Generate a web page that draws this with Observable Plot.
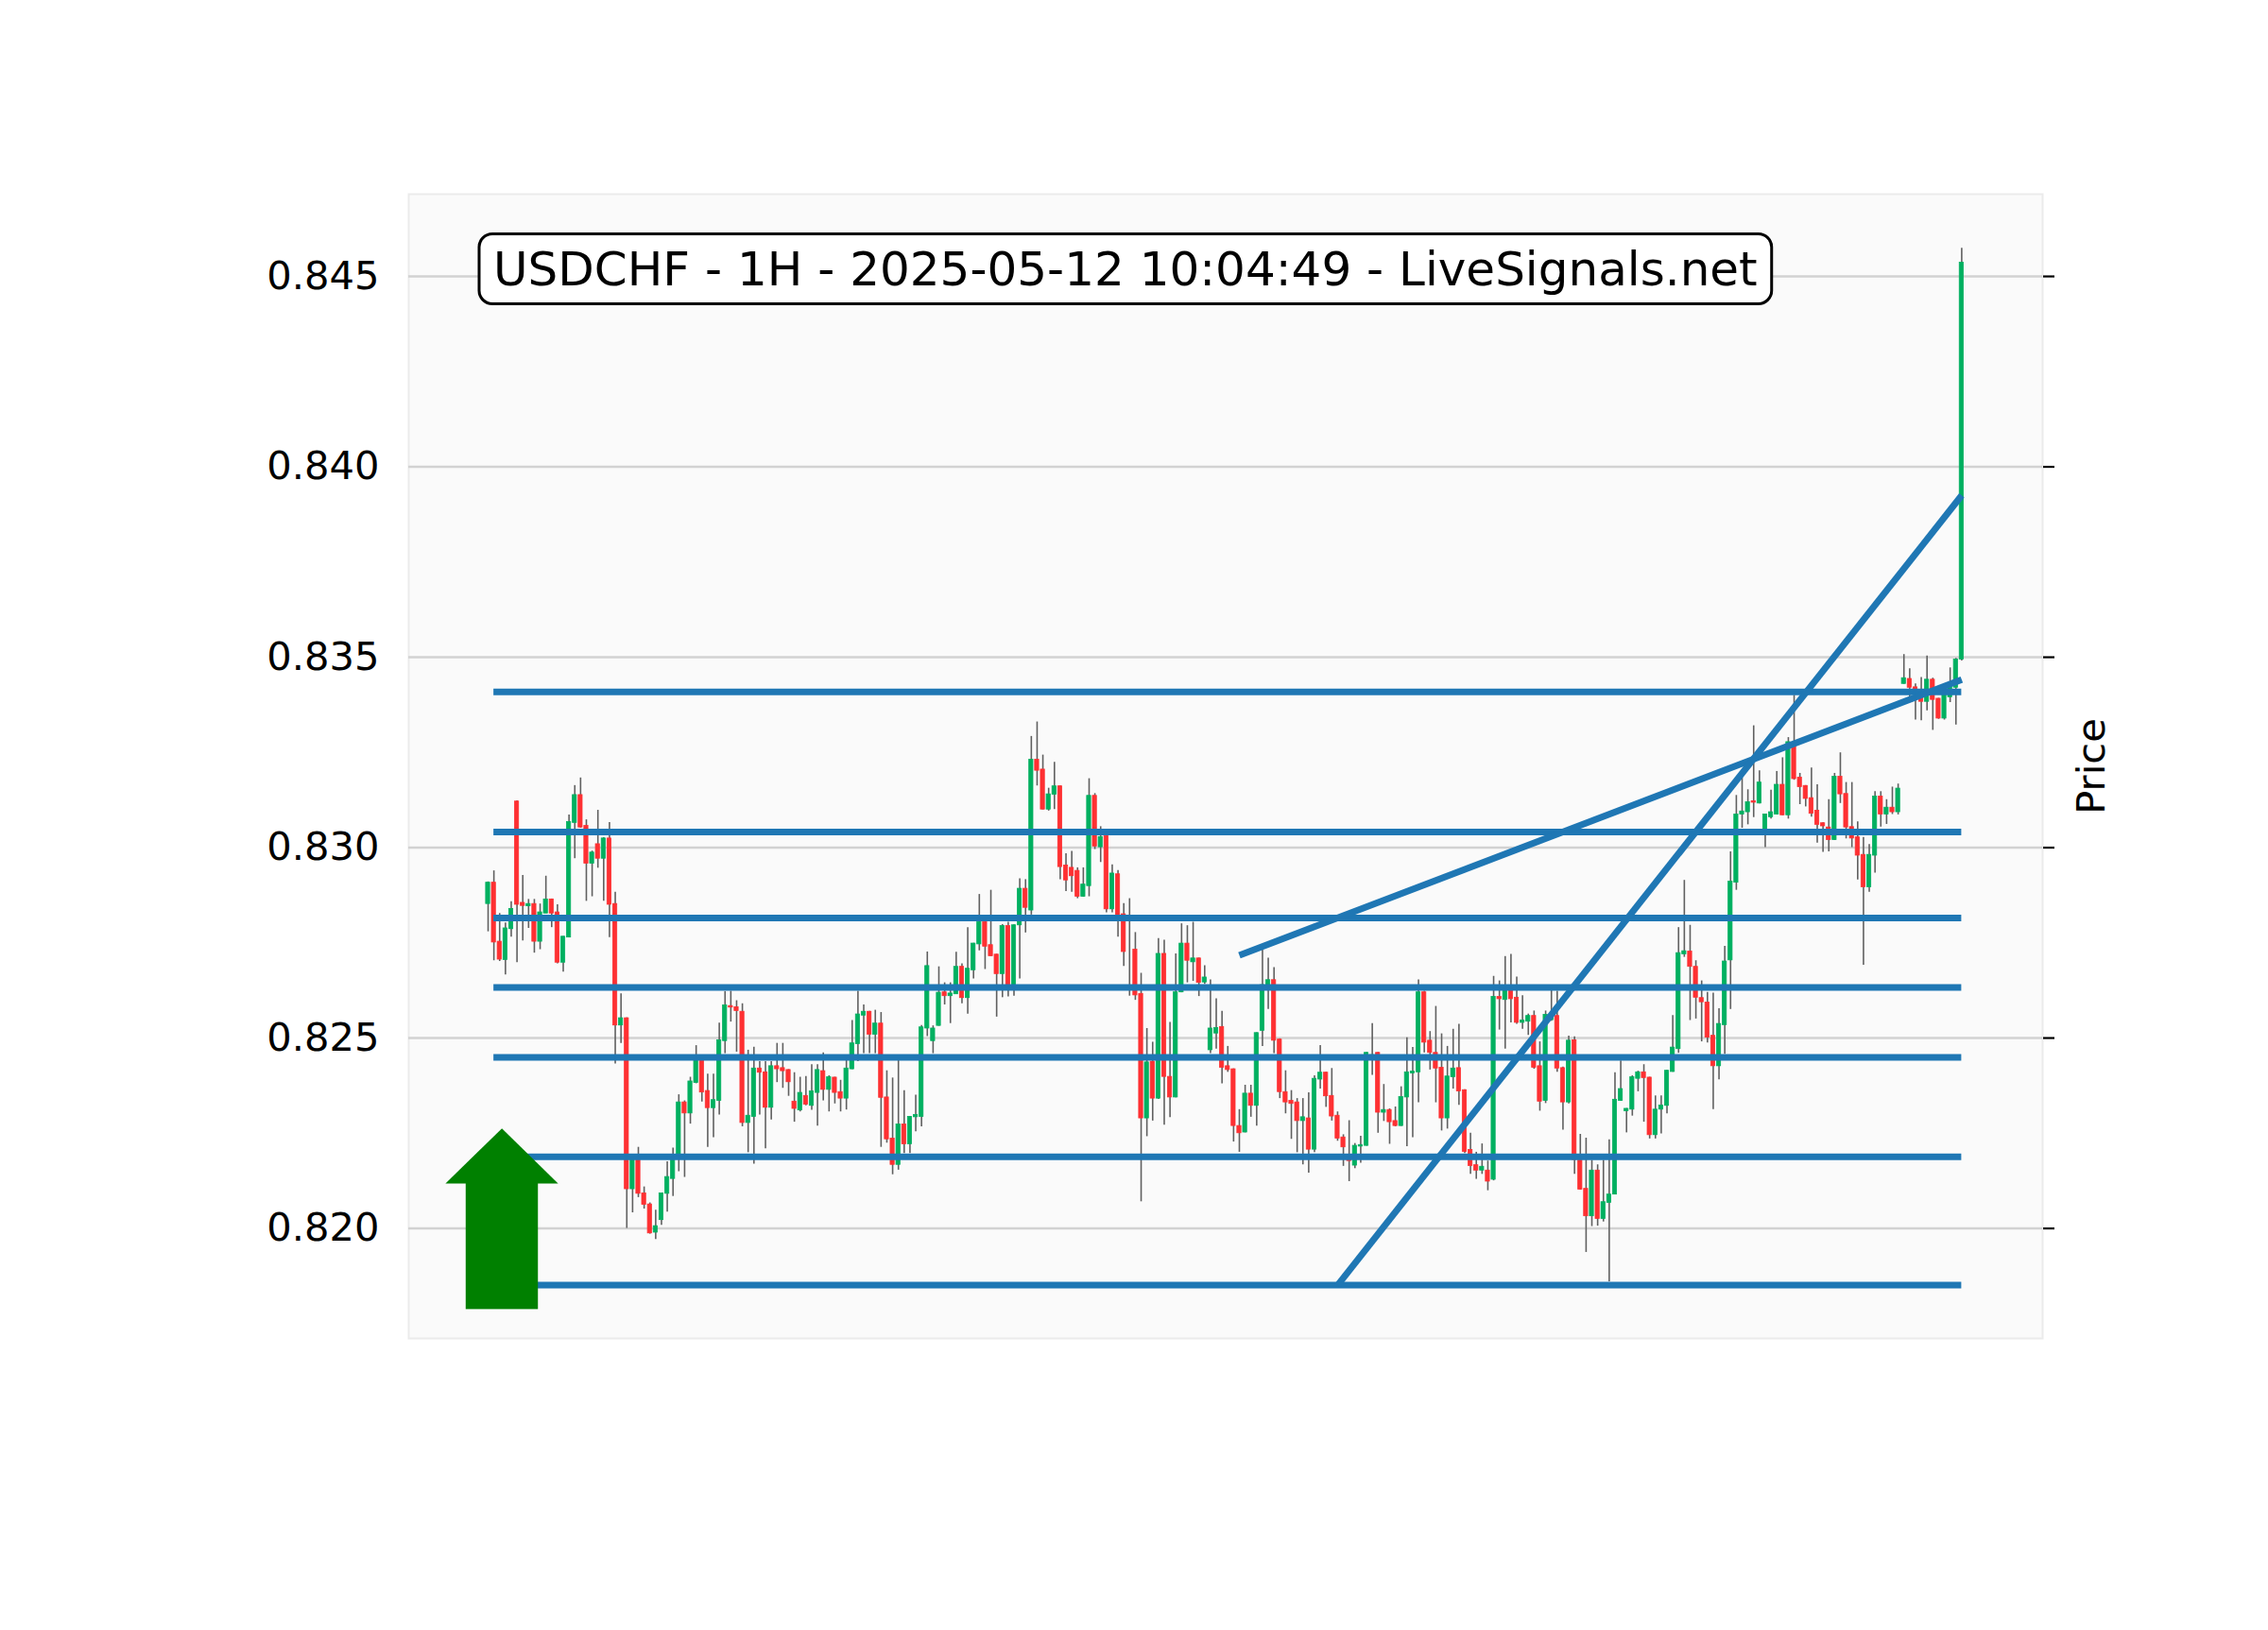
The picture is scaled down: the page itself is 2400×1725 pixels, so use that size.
<!DOCTYPE html>
<html><head><meta charset="utf-8">
<script src="https://cdn.jsdelivr.net/npm/d3@7"></script>
<script src="https://cdn.jsdelivr.net/npm/@observablehq/plot@0.6"></script>
<style>html,body{margin:0;padding:0;background:#fff}svg{display:block}</style>
</head><body><div id="chart"></div>
<script>
// ---- data (USDCHF 1H candles) ----
const open = [0.82852,0.82908,0.82753,0.82705,0.82786,0.83121,0.82855,0.82846,0.82852,0.82753,
0.82827,0.82864,0.82830,0.82698,0.82764,0.83065,0.83138,0.83057,0.82958,0.83009,
0.82971,0.83024,0.82852,0.82533,0.82552,0.82103,0.82190,0.82092,0.82063,0.81989,
0.82022,0.82091,0.82130,0.82182,0.82331,0.82302,0.82382,0.82442,0.82361,0.82316,
0.82335,0.82492,0.82584,0.82581,0.82569,0.82277,0.82293,0.82420,0.82410,0.82317,
0.82426,0.82421,0.82416,0.82333,0.82310,0.82348,0.82322,0.82356,0.82413,0.82364,
0.82396,0.82358,0.82341,0.82418,0.82484,0.82559,0.82569,0.82509,0.82538,0.82344,
0.82236,0.82167,0.82273,0.82221,0.82292,0.82293,0.82525,0.82492,0.82532,0.82620,
0.82610,0.82615,0.82687,0.82605,0.82678,0.82746,0.82804,0.82744,0.82719,0.82668,
0.82794,0.82635,0.82796,0.82892,0.82835,0.83231,0.83205,0.83100,0.83139,0.83161,
0.82953,0.82947,0.82939,0.82871,0.82899,0.83136,0.83001,0.83030,0.82838,0.82930,
0.82825,0.82817,0.82732,0.82616,0.82289,0.82438,0.82341,0.82721,0.82398,0.82344,
0.82620,0.82748,0.82699,0.82709,0.82646,0.82468,0.82512,0.82529,0.82426,0.82418,
0.82269,0.82252,0.82354,0.82322,0.82519,0.82639,0.82652,0.82496,0.82358,0.82335,
0.82331,0.82282,0.82289,0.82207,0.82391,0.82409,0.82348,0.82296,0.82239,0.82186,
0.82165,0.82215,0.82217,0.82449,0.82461,0.82304,0.82311,0.82282,0.82269,0.82344,
0.82407,0.82410,0.82620,0.82493,0.82461,0.82422,0.82289,0.82397,0.82421,0.82363,
0.82206,0.82166,0.82152,0.82152,0.82128,0.82608,0.82600,0.82627,0.82606,0.82540,
0.82543,0.82558,0.82426,0.82335,0.82547,0.82558,0.82421,0.82331,0.82494,0.82179,
0.82104,0.82032,0.82152,0.82025,0.82067,0.82089,0.82335,0.82308,0.82312,0.82393,
0.82410,0.82396,0.82245,0.82312,0.82322,0.82411,0.82471,0.82720,0.82727,0.82687,
0.82605,0.82593,0.82506,0.82426,0.82534,0.82704,0.82908,0.83087,0.83093,0.83122,
0.83116,0.83045,0.83080,0.83087,0.83165,0.83085,0.83267,0.83184,0.83162,0.83130,
0.83097,0.83064,0.83053,0.83020,0.83186,0.83141,0.83054,0.83027,0.82981,0.82896,
0.82979,0.83134,0.83087,0.83105,0.83093,0.83430,0.83443,0.83421,0.83412,0.83383,
0.83441,0.83391,0.83339,0.83395,0.83420,0.83494];
const high = [0.82910,0.82939,0.82827,0.82802,0.82858,0.83123,0.82927,0.82864,0.82864,0.82852,
0.82925,0.82865,0.82850,0.82767,0.83086,0.83163,0.83183,0.83073,0.82991,0.83098,
0.83026,0.83066,0.82883,0.82616,0.82553,0.82185,0.82213,0.82109,0.82067,0.82048,
0.82093,0.82175,0.82211,0.82351,0.82335,0.82397,0.82480,0.82451,0.82405,0.82405,
0.82539,0.82622,0.82623,0.82598,0.82590,0.82468,0.82476,0.82438,0.82438,0.82438,
0.82486,0.82486,0.82417,0.82409,0.82397,0.82399,0.82430,0.82430,0.82461,0.82401,
0.82397,0.82389,0.82449,0.82546,0.82623,0.82587,0.82570,0.82573,0.82567,0.82414,
0.82395,0.82442,0.82362,0.82294,0.82350,0.82533,0.82726,0.82532,0.82687,0.82645,
0.82645,0.82725,0.82695,0.82790,0.82749,0.82877,0.82805,0.82888,0.82720,0.82798,
0.82804,0.82797,0.82918,0.82916,0.83292,0.83330,0.83243,0.83156,0.83224,0.83162,
0.82984,0.82990,0.82947,0.82947,0.83181,0.83142,0.83055,0.83031,0.82955,0.82940,
0.82853,0.82866,0.82777,0.82670,0.82525,0.82489,0.82761,0.82757,0.82541,0.82721,
0.82800,0.82795,0.82804,0.82710,0.82690,0.82653,0.82603,0.82570,0.82478,0.82419,
0.82312,0.82376,0.82376,0.82514,0.82736,0.82710,0.82685,0.82498,0.82414,0.82362,
0.82341,0.82341,0.82356,0.82401,0.82480,0.82410,0.82420,0.82306,0.82246,0.82283,
0.82223,0.82242,0.82462,0.82538,0.82462,0.82378,0.82314,0.82319,0.82372,0.82501,
0.82475,0.82653,0.82623,0.82517,0.82583,0.82511,0.82478,0.82523,0.82536,0.82364,
0.82250,0.82200,0.82222,0.82177,0.82662,0.82650,0.82714,0.82720,0.82660,0.82611,
0.82563,0.82571,0.82490,0.82571,0.82625,0.82623,0.82424,0.82505,0.82503,0.82247,
0.82237,0.82179,0.82167,0.82179,0.82233,0.82409,0.82440,0.82315,0.82401,0.82413,
0.82430,0.82397,0.82348,0.82348,0.82415,0.82559,0.82790,0.82914,0.82796,0.82703,
0.82650,0.82620,0.82618,0.82577,0.82741,0.82989,0.83137,0.83184,0.83152,0.83320,
0.83202,0.83088,0.83151,0.83200,0.83236,0.83289,0.83400,0.83195,0.83163,0.83209,
0.83165,0.83065,0.83126,0.83195,0.83249,0.83171,0.83171,0.83068,0.83027,0.83008,
0.83147,0.83147,0.83126,0.83159,0.83167,0.83507,0.83470,0.83430,0.83447,0.83503,
0.83445,0.83392,0.83424,0.83472,0.83497,0.84574];
const low = [0.82779,0.82703,0.82701,0.82666,0.82765,0.82698,0.82755,0.82788,0.82723,0.82732,
0.82827,0.82790,0.82695,0.82673,0.82763,0.82971,0.83051,0.82859,0.82871,0.82946,
0.82859,0.82764,0.82432,0.82486,0.82000,0.82041,0.82081,0.82051,0.81985,0.81971,
0.82008,0.82043,0.82084,0.82149,0.82134,0.82274,0.82380,0.82332,0.82213,0.82238,
0.82298,0.82459,0.82542,0.82463,0.82267,0.82199,0.82169,0.82298,0.82209,0.82285,
0.82383,0.82368,0.82347,0.82279,0.82306,0.82322,0.82310,0.82269,0.82335,0.82306,
0.82327,0.82306,0.82311,0.82417,0.82438,0.82459,0.82459,0.82459,0.82213,0.82224,
0.82141,0.82153,0.82197,0.82197,0.82254,0.82267,0.82504,0.82459,0.82531,0.82587,
0.82538,0.82614,0.82590,0.82563,0.82655,0.82729,0.82680,0.82714,0.82555,0.82606,
0.82608,0.82610,0.82655,0.82776,0.82823,0.83162,0.83099,0.83096,0.83100,0.82916,
0.82885,0.82883,0.82866,0.82870,0.82871,0.82995,0.82961,0.82829,0.82829,0.82765,
0.82688,0.82610,0.82599,0.82070,0.82241,0.82282,0.82339,0.82271,0.82291,0.82343,
0.82619,0.82645,0.82649,0.82609,0.82641,0.82459,0.82471,0.82380,0.82410,0.82227,
0.82200,0.82251,0.82292,0.82269,0.82478,0.82575,0.82459,0.82341,0.82301,0.82234,
0.82199,0.82167,0.82145,0.82199,0.82366,0.82318,0.82282,0.82229,0.82163,0.82123,
0.82157,0.82171,0.82216,0.82402,0.82250,0.82281,0.82221,0.82267,0.82268,0.82215,
0.82238,0.82330,0.82461,0.82416,0.82330,0.82256,0.82261,0.82366,0.82323,0.82197,
0.82142,0.82129,0.82142,0.82099,0.82125,0.82521,0.82471,0.82540,0.82536,0.82523,
0.82507,0.82418,0.82308,0.82328,0.82544,0.82410,0.82258,0.82327,0.82142,0.82101,
0.81937,0.82005,0.82006,0.82017,0.81860,0.82088,0.82334,0.82251,0.82295,0.82359,
0.82279,0.82235,0.82235,0.82248,0.82301,0.82410,0.82460,0.82712,0.82546,0.82550,
0.82490,0.82487,0.82312,0.82390,0.82457,0.82575,0.82888,0.83051,0.83060,0.83079,
0.83115,0.83000,0.83075,0.83086,0.83084,0.83075,0.83177,0.83113,0.83107,0.83080,
0.83012,0.82988,0.82989,0.83019,0.83116,0.83023,0.83000,0.82915,0.82691,0.82883,
0.82933,0.83054,0.83061,0.83087,0.83086,0.83429,0.83384,0.83335,0.83333,0.83359,
0.83308,0.83337,0.83335,0.83381,0.83322,0.83490];
const close = [0.82908,0.82751,0.82706,0.82788,0.82839,0.82850,0.82847,0.82852,0.82753,0.82830,
0.82864,0.82827,0.82698,0.82766,0.83067,0.83138,0.83053,0.82958,0.82987,0.82971,
0.83024,0.82850,0.82533,0.82552,0.82103,0.82184,0.82091,0.82062,0.81987,0.82006,
0.82092,0.82135,0.82182,0.82331,0.82302,0.82386,0.82442,0.82357,0.82316,0.82337,
0.82494,0.82586,0.82580,0.82571,0.82277,0.82296,0.82420,0.82409,0.82317,0.82426,
0.82418,0.82413,0.82384,0.82314,0.82356,0.82325,0.82360,0.82416,0.82364,0.82397,
0.82356,0.82341,0.82420,0.82486,0.82562,0.82569,0.82509,0.82538,0.82343,0.82234,
0.82167,0.82273,0.82221,0.82293,0.82298,0.82528,0.82689,0.82525,0.82619,0.82610,
0.82617,0.82687,0.82605,0.82682,0.82748,0.82804,0.82740,0.82715,0.82668,0.82794,
0.82635,0.82796,0.82892,0.82842,0.83231,0.83202,0.83100,0.83140,0.83161,0.82949,
0.82914,0.82925,0.82871,0.82903,0.83136,0.83003,0.83028,0.82838,0.82932,0.82815,
0.82726,0.82812,0.82612,0.82289,0.82436,0.82341,0.82721,0.82398,0.82344,0.82620,
0.82748,0.82703,0.82709,0.82645,0.82659,0.82525,0.82526,0.82422,0.82416,0.82269,
0.82250,0.82354,0.82322,0.82513,0.82639,0.82652,0.82493,0.82358,0.82331,0.82327,
0.82282,0.82292,0.82207,0.82393,0.82409,0.82347,0.82294,0.82236,0.82213,0.82177,
0.82217,0.82219,0.82461,0.82455,0.82304,0.82311,0.82279,0.82269,0.82345,0.82410,
0.82412,0.82620,0.82488,0.82461,0.82420,0.82289,0.82399,0.82420,0.82360,0.82201,
0.82164,0.82152,0.82162,0.82123,0.82608,0.82602,0.82631,0.82602,0.82540,0.82546,
0.82558,0.82422,0.82333,0.82561,0.82561,0.82420,0.82331,0.82493,0.82180,0.82102,
0.82032,0.82152,0.82025,0.82069,0.82089,0.82338,0.82366,0.82314,0.82397,0.82410,
0.82395,0.82245,0.82312,0.82323,0.82414,0.82475,0.82723,0.82728,0.82687,0.82606,
0.82594,0.82501,0.82426,0.82537,0.82701,0.82911,0.83087,0.83095,0.83119,0.83118,
0.83171,0.83087,0.83093,0.83165,0.83085,0.83277,0.83180,0.83159,0.83128,0.83089,
0.83060,0.83056,0.83020,0.83186,0.83140,0.83053,0.83024,0.82979,0.82896,0.82981,
0.83134,0.83087,0.83105,0.83093,0.83155,0.83445,0.83420,0.83407,0.83383,0.83441,
0.83388,0.83339,0.83403,0.83421,0.83494,0.84536];

// support / resistance levels (horizontal lines) and their span in candle index
const levels = [0.83409, 0.83041, 0.82815, 0.82633, 0.82449, 0.82188, 0.81851];
const levelSpan = [1, 255];
// trend lines: [startIndex, startPrice, endIndex, endPrice]
const trendLines = [[130, 0.82717, 255, 0.83441], [147, 0.81851, 255, 0.83925]];
// buy arrow: x stops (head left, shaft left, tip, shaft right, head right), y stops (bottom, head base, tip)
const arrowX = [-7.3, -3.8, 2.47, 8.7, 12.2];
const arrowY = [0.81787, 0.82117, 0.82261];
const yTicks = [0.820, 0.825, 0.830, 0.835, 0.840, 0.845];
const xDomain = [-13.74, 269.0];
const yDomain = [0.81711, 0.84716];
const titleText = "USDCHF - 1H - 2025-05-12 10:04:49 - LiveSignals.net";

// ---- chart ----
const idx = d3.range(open.length);
const UP = "#00b060", DOWN = "#fe3032", WICK = "#606060", BLUE = "#1f77b4";
const col = i => close[i] >= open[i] ? UP : DOWN;
const headPts = [
  {x: arrowX[0], y1: arrowY[1], y2: arrowY[1]},
  {x: arrowX[2], y1: arrowY[1], y2: arrowY[2]},
  {x: arrowX[4], y1: arrowY[1], y2: arrowY[1]}
];

const svg = Plot.plot({
  width: 2400, height: 1725,
  marginLeft: 432, marginRight: 239, marginTop: 205, marginBottom: 309,
  style: {fontFamily: "DejaVu Sans", fontSize: "41.67px", color: "#000", background: "#fff"},
  x: {domain: xDomain, axis: null},
  y: {domain: yDomain, axis: null},
  marks: [
    Plot.frame({fill: "#fafafa", stroke: "#ebebeb", strokeWidth: 2}),
    Plot.ruleY(yTicks, {stroke: "#d2d2d2", strokeWidth: 2.5}),
    Plot.ruleX(idx, {x: i => i, y1: i => low[i], y2: i => high[i], stroke: WICK, strokeWidth: 1.6}),
    Plot.rect(idx, {x1: i => i - 0.35, x2: i => i + 0.35,
      y1: i => Math.min(open[i], close[i]), y2: i => Math.max(open[i], close[i]),
      fill: col, stroke: col, strokeWidth: 0.8}),
    Plot.ruleY(levels, {y: d => d, x1: () => levelSpan[0], x2: () => levelSpan[1], stroke: BLUE, strokeWidth: 7}),
    Plot.link(trendLines, {x1: d => d[0], y1: d => d[1], x2: d => d[2], y2: d => d[3], stroke: BLUE, strokeWidth: 7}),
    Plot.rect([0], {x1: () => arrowX[1], x2: () => arrowX[3], y1: () => arrowY[0], y2: () => arrowY[1] + 0.00003, fill: "#008000"}),
    Plot.areaY(headPts, {x: "x", y1: "y1", y2: "y2", fill: "#008000", curve: "linear"}),
    Plot.axisY({anchor: "left", ticks: yTicks, tickSize: 0, tickPadding: 31, tickFormat: d3.format(".3f"), fontSize: 41.67, label: null}),
    Plot.axisY({anchor: "right", ticks: yTicks, tickSize: 12, tickFormat: () => "", label: null, strokeWidth: 2.2}),
    Plot.text(["Price"], {frameAnchor: "right", dx: 52, rotate: -90, textAnchor: "middle", lineAnchor: "middle", fontSize: 41.67, fill: "#000"})
  ]
});
document.getElementById("chart").appendChild(svg);

// title box in upper-left of axes
const root = d3.select(svg);
const g = root.append("g").attr("text-anchor", "start");
const t = g.append("text")
  .attr("x", 522).attr("y", 301.5)
  .attr("text-anchor", "start")
  .attr("font-family", "DejaVu Sans").attr("font-size", 50).attr("fill", "#000")
  .text(titleText);
const bb = t.node().getBBox();
g.insert("rect", "text")
  .attr("x", bb.x - 15).attr("y", bb.y - 8)
  .attr("width", bb.width + 30).attr("height", bb.height + 16)
  .attr("rx", 14).attr("ry", 14)
  .attr("fill", "#fff").attr("stroke", "#000").attr("stroke-width", 3);
</script>
</body></html>
